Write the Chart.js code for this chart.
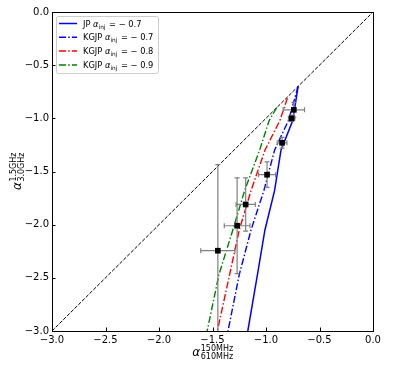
<!DOCTYPE html>
<html>
<head>
<meta charset="utf-8">
<script src="https://cdn.jsdelivr.net/npm/chart.js@4/dist/chart.umd.min.js"></script>
<style>
  html, body { margin: 0; padding: 0; background: #fff; }
</style>
</head>
<body>
<canvas id="c" width="415" height="365"></canvas>
<script>
// 1:1 line
const diagX = [-3.0, 0.0];
const diagY = [-3.0, 0.0];

// model tracks (alpha_150-610 vs alpha_1.5-3.0)
const jpX   = [-0.70, -0.75, -0.86, -0.92, -1.01, -1.08, -1.17];
const jpY   = [-0.70, -1.02, -1.30, -1.68, -2.05, -2.47, -3.00];
const kg07X = [-0.70, -0.79, -0.92, -1.02, -1.14, -1.25, -1.355];
const kg07Y = [-0.70, -1.02, -1.30, -1.68, -2.05, -2.47, -3.00];
const kg08X = [-0.80, -0.87, -1.01, -1.14, -1.25, -1.34, -1.455];
const kg08Y = [-0.81, -1.02, -1.30, -1.68, -2.05, -2.47, -3.00];
const kg09X = [-0.90, -0.97, -1.06, -1.20, -1.31, -1.44, -1.55];
const kg09Y = [-0.90, -1.02, -1.30, -1.68, -2.05, -2.47, -3.00];

// measured points
const obsX    = [-0.74, -0.76, -0.85, -0.99, -1.19, -1.27, -1.45];
const obsY    = [-0.92, -1.00, -1.23, -1.53, -1.81, -2.01, -2.245];
const obsXErr = [0.10, 0.03, 0.045, 0.08, 0.09, 0.12, 0.16];
const obsYErr = [0.07, 0.03, 0.05, 0.12, 0.25, 0.45, 0.81];

const tickVals = [-3.0, -2.5, -2.0, -1.5, -1.0, -0.5, 0.0];

const FONT = '"DejaVu Sans", sans-serif';
const fmt = v => (v < 0 ? '\u2212' : '') + Math.abs(v).toFixed(1);
const zip = (xs, ys) => xs.map((x, i) => ({ x: x, y: ys[i] }));

const legendItems = [
  { name: 'JP', val: '0.7', color: '#0000ff', dash: [] },
  { name: 'KGJP', val: '0.7', color: '#0000ff', dash: [7, 2.2, 1.5, 2.2] },
  { name: 'KGJP', val: '0.8', color: '#ff0000', dash: [7, 2.2, 1.5, 2.2] },
  { name: 'KGJP', val: '0.9', color: '#008000', dash: [7, 2.2, 1.5, 2.2] },
];

function font(size, italic) {
  return (italic ? 'italic ' : '') + size + 'px ' + FONT;
}

// alpha with stacked super/subscript, centred on (0,0) baseline
function alphaLabel(ctx, sup, sub) {
  ctx.font = font(12, true);
  const wa = ctx.measureText('\u03b1').width;
  ctx.font = font(8);
  const ws = Math.max(ctx.measureText(sup).width, ctx.measureText(sub).width);
  const x0 = -(wa + ws) / 2;
  ctx.textAlign = 'left';
  ctx.textBaseline = 'alphabetic';
  ctx.font = font(12, true);
  ctx.fillText('\u03b1', x0, 0);
  ctx.font = font(8);
  ctx.fillText(sup, x0 + wa + 0.5, -5);
  ctx.fillText(sub, x0 + wa + 0.5, 3);
}

const decor = {
  id: 'decor',
  beforeDatasetDraw(chart, args) {
    if (args.meta.label !== 'obs') return;
    const ctx = chart.ctx, xs = chart.scales.x, ys = chart.scales.y, a = chart.chartArea;
    ctx.save();
    ctx.beginPath();
    ctx.rect(a.left, a.top, a.right - a.left, a.bottom - a.top);
    ctx.clip();
    ctx.strokeStyle = '#808080';
    ctx.lineWidth = 1.2;
    const cap = 2.5;
    obsX.forEach((x, i) => {
      const px = xs.getPixelForValue(x), py = ys.getPixelForValue(obsY[i]);
      const x1 = xs.getPixelForValue(x - obsXErr[i]), x2 = xs.getPixelForValue(x + obsXErr[i]);
      const y1 = ys.getPixelForValue(obsY[i] + obsYErr[i]), y2 = ys.getPixelForValue(obsY[i] - obsYErr[i]);
      ctx.beginPath();
      ctx.moveTo(x1, py); ctx.lineTo(x2, py);
      ctx.moveTo(x1, py - cap); ctx.lineTo(x1, py + cap);
      ctx.moveTo(x2, py - cap); ctx.lineTo(x2, py + cap);
      ctx.moveTo(px, y1); ctx.lineTo(px, y2);
      ctx.moveTo(px - cap, y1); ctx.lineTo(px + cap, y1);
      ctx.moveTo(px - cap, y2); ctx.lineTo(px + cap, y2);
      ctx.stroke();
    });
    ctx.restore();
  },
  afterDraw(chart) {
    const ctx = chart.ctx, xs = chart.scales.x, ys = chart.scales.y, a = chart.chartArea;
    ctx.save();
    // frame
    ctx.strokeStyle = '#000';
    ctx.lineWidth = 1;
    ctx.strokeRect(Math.round(a.left) + 0.5, Math.round(a.top) + 0.5,
      Math.round(a.right - a.left), Math.round(a.bottom - a.top));
    // inward ticks on left and bottom
    ctx.beginPath();
    tickVals.forEach(v => {
      const px = Math.round(xs.getPixelForValue(v)) + 0.5;
      ctx.moveTo(px, a.bottom); ctx.lineTo(px, a.bottom - 3.5);
      const py = Math.round(ys.getPixelForValue(v)) + 0.5;
      ctx.moveTo(a.left, py); ctx.lineTo(a.left + 3.5, py);
    });
    ctx.stroke();

    // legend
    const lx = a.left + 4, ly = a.top + 4, lw = 102, lh = 57;
    ctx.fillStyle = 'rgba(255,255,255,0.8)';
    ctx.strokeStyle = '#cccccc';
    ctx.beginPath();
    ctx.roundRect(lx + 0.5, ly + 0.5, lw, lh, 2);
    ctx.fill();
    ctx.stroke();
    legendItems.forEach((it, i) => {
      const cy = ly + 7.5 + i * 13.8;
      ctx.strokeStyle = it.color;
      ctx.lineWidth = 1.5;
      ctx.setLineDash(it.dash);
      ctx.beginPath();
      ctx.moveTo(lx + 3, cy); ctx.lineTo(lx + 21, cy);
      ctx.stroke();
      ctx.setLineDash([]);
      ctx.fillStyle = '#000';
      ctx.textAlign = 'left';
      ctx.textBaseline = 'alphabetic';
      let x = lx + 27;
      const base = cy + 3;
      ctx.font = font(8.3);
      ctx.fillText(it.name + ' ', x, base);
      x += ctx.measureText(it.name + ' ').width;
      ctx.font = font(8.3, true);
      ctx.fillText('\u03b1', x, base);
      x += ctx.measureText('\u03b1').width;
      ctx.font = font(5.8);
      ctx.fillText('inj', x, base + 2);
      x += ctx.measureText('inj').width;
      ctx.font = font(8.3);
      const rest = ' = \u2212 ' + it.val;
      ctx.fillText(rest, x + 1, base);
    });

    // axis titles
    ctx.fillStyle = '#000';
    ctx.save();
    ctx.translate((a.left + a.right) / 2, 356);
    alphaLabel(ctx, '150MHz', '610MHz');
    ctx.restore();
    ctx.save();
    ctx.translate(21, (a.top + a.bottom) / 2);
    ctx.rotate(-Math.PI / 2);
    alphaLabel(ctx, '1.5GHz', '3.0GHz');
    ctx.restore();
    ctx.restore();
  }
};

const lineDs = (label, xs, ys, color, dash, width, order) => ({
  label: label,
  data: zip(xs, ys),
  showLine: true,
  borderColor: color,
  borderWidth: width,
  borderDash: dash,
  pointRadius: 0,
  fill: false,
  tension: 0,
  order: order,
});

new Chart(document.getElementById('c'), {
  type: 'scatter',
  data: {
    datasets: [
      {
        label: 'obs',
        data: zip(obsX, obsY),
        pointStyle: 'rect',
        pointRadius: 4,
        backgroundColor: '#000',
        borderColor: '#000',
        borderWidth: 0,
        order: 0,
      },
      lineDs('JP -0.7', jpX, jpY, '#0000ff', [], 1.5, 1),
      lineDs('KGJP -0.7', kg07X, kg07Y, '#0000ff', [7, 2.2, 1.5, 2.2], 1.4, 2),
      lineDs('KGJP -0.8', kg08X, kg08Y, '#ff0000', [7, 2.2, 1.5, 2.2], 1.4, 3),
      lineDs('KGJP -0.9', kg09X, kg09Y, '#008000', [7, 2.2, 1.5, 2.2], 1.4, 4),
      lineDs('1:1', diagX, diagY, '#000000', [3.7, 1.6], 1, 5),
    ],
  },
  options: {
    responsive: false,
    animation: false,
    layout: { padding: { left: 0, right: 42, top: 12, bottom: 0 } },
    plugins: {
      legend: { display: false },
      tooltip: { enabled: false },
    },
    scales: {
      x: {
        type: 'linear',
        min: -3, max: 0,
        grid: { display: false, drawTicks: false },
        border: { display: false },
        afterFit: s => { s.height = 34; },
        ticks: {
          stepSize: 0.5,
          padding: 3,
          color: '#000',
          font: { family: FONT, size: 10 },
          callback: v => fmt(v),
          maxRotation: 0,
        },
      },
      y: {
        type: 'linear',
        min: -3, max: 0,
        grid: { display: false, drawTicks: false },
        border: { display: false },
        afterFit: s => { s.width = 52; },
        ticks: {
          stepSize: 0.5,
          padding: 3,
          color: '#000',
          font: { family: FONT, size: 10 },
          callback: v => fmt(v),
        },
      },
    },
  },
  plugins: [decor],
});
</script>
</body>
</html>
